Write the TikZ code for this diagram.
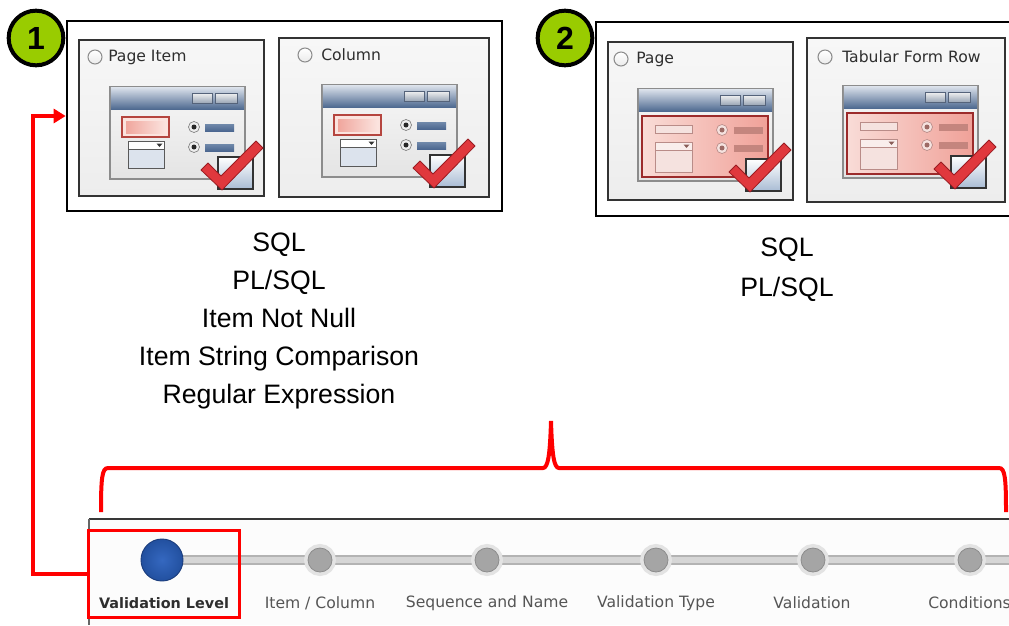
\documentclass[tikz,border=0pt]{standalone}
\usepackage{fontspec}
\setmainfont{Liberation Sans}
\newfontfamily\uifont{DejaVu Sans}
\usetikzlibrary{arrows.meta,backgrounds}

\definecolor{badgeGreen}{HTML}{99CC00}
\definecolor{panelTop}{HTML}{F7F7F7}
\definecolor{panelBot}{HTML}{EDEDED}
\definecolor{winTop}{HTML}{F6F6F6}
\definecolor{winBot}{HTML}{E4E4E4}
\definecolor{winEdge}{HTML}{8C8C8C}
\definecolor{barTop}{HTML}{D8DFE9}
\definecolor{barBot}{HTML}{4F6A91}
\definecolor{btnTop}{HTML}{F2F2F2}
\definecolor{btnBot}{HTML}{9AA6B6}
\definecolor{btnEdge}{HTML}{55637A}
\definecolor{fieldRed}{HTML}{B5453F}
\definecolor{fieldPinkA}{HTML}{F0A69D}
\definecolor{fieldPinkB}{HTML}{FBE3DE}
\definecolor{ddFill}{HTML}{DCE3ED}
\definecolor{barBlueA}{HTML}{7089AA}
\definecolor{barBlueB}{HTML}{4C6790}
\definecolor{boxBlue}{HTML}{A9BCD4}
\definecolor{checkRed}{HTML}{E0383D}
\definecolor{checkDark}{HTML}{9A1C22}
\definecolor{pageA}{HTML}{F9DCD7}
\definecolor{pageB}{HTML}{F0A198}
\definecolor{pageEdge}{HTML}{9C2B2B}
\definecolor{fadedEdge}{HTML}{B98C88}
\definecolor{fadedFill}{HTML}{F5E2DF}
\definecolor{fadedBar}{HTML}{C4857E}
\definecolor{titleGray}{HTML}{2E2E2E}
\definecolor{labelGray}{HTML}{555555}
\definecolor{trackDark}{HTML}{B3B3B3}
\definecolor{trackLight}{HTML}{D6D6D6}
\definecolor{dotGray}{HTML}{A5A5A5}
\definecolor{dotEdge}{HTML}{8C8C8C}
\definecolor{haloGray}{HTML}{E3E3E3}
\definecolor{blueIn}{HTML}{3568C0}
\definecolor{blueOut}{HTML}{22509F}
\definecolor{blueEdge}{HTML}{1C3E7E}

% radio button of the dialog screenshots
\newcommand{\uiradio}[2]{%
  \draw[fill=black!7, draw=black!50, line width=0.5pt] (#1,#2) circle[radius=5.5];
  \fill[black!85] (#1,#2) circle[radius=2.5];}
\newcommand{\fadedradio}[2]{%
  \draw[fill=fadedFill, draw=fadedEdge, line width=0.5pt] (#1,#2) circle[radius=5.5];
  \fill[fadedBar!80!black] (#1,#2) circle[radius=2.5];}

% window frame with title bar and its two buttons
\newcommand{\winframe}{%
  \shadedraw[top color=winTop, bottom color=winBot, draw=winEdge, line width=1.1pt] (0,0) rectangle (135,92);
  \shade[top color=barTop, bottom color=barBot] (0.8,0.8) rectangle (134.2,22);
  \shadedraw[top color=btnTop, bottom color=btnBot, draw=btnEdge, line width=0.5pt] (82,6) rectangle (102,16);
  \shadedraw[top color=btnTop, bottom color=btnBot, draw=btnEdge, line width=0.5pt] (105,6) rectangle (127,16);}

% checkbox with the red tick
\newcommand{\wincheck}{%
  \shadedraw[top color=white, bottom color=boxBlue, draw=black!80, line width=0.9pt] (108,70) rectangle (143,102);
  \filldraw[fill=checkRed, draw=checkDark, line width=0.6pt, line join=round]
    (91,83) -- (98,76) -- (111,89) -- (146,54) -- (153,61) -- (112,103) -- cycle;}

% window with one highlighted field
\newcommand{\itemwindow}[2]{%
  \begin{scope}[shift={(#1,#2)}]
    \winframe
    \draw[fill=fieldPinkB, draw=fieldRed, line width=1.2pt] (12,30) rectangle (59,50);
    \shade[left color=fieldPinkA, right color=fieldPinkB] (16,34) rectangle (55,46);
    \draw[fill=ddFill, draw=black!65, line width=0.6pt] (18,54) rectangle (54,81);
    \draw[fill=white, draw=black!65, line width=0.6pt] (18,54) rectangle (54,62);
    \fill[black!80] (46.5,56.5) -- (52.5,56.5) -- (49.5,60) -- cycle;
    \uiradio{84}{40}
    \uiradio{84}{60}
    \shade[top color=barBlueA, bottom color=barBlueB] (95,37) rectangle (124,44);
    \shade[top color=barBlueA, bottom color=barBlueB] (95,57) rectangle (124,64);
    \wincheck
  \end{scope}}

% window with the whole body highlighted
\newcommand{\pagewindow}[2]{%
  \begin{scope}[shift={(#1,#2)}]
    \winframe
    \shadedraw[left color=pageA, right color=pageB, draw=pageEdge, line width=1.2pt] (4,27) rectangle (130,88);
    \draw[fill=fadedFill, draw=fadedEdge, line width=0.5pt] (17,36) rectangle (54,44);
    \draw[fill=fadedFill, draw=fadedEdge, line width=0.5pt] (17,53) rectangle (54,83);
    \draw[fill=fadedFill!60!white, draw=fadedEdge, line width=0.5pt] (17,53) rectangle (54,61);
    \fill[fadedBar!70!black] (45.5,55.5) -- (51.5,55.5) -- (48.5,59) -- cycle;
    \fadedradio{84}{41}
    \fadedradio{84}{59}
    \fill[fadedBar] (96,38) rectangle (125,45);
    \fill[fadedBar] (96,56) rectangle (125,63);
    \wincheck
  \end{scope}}

\begin{document}
\begin{tikzpicture}[x=0.75pt, y=-0.75pt,
  badge/.style={circle, draw=black, line width=3pt, fill=badgeGreen, minimum size=41pt,
    inner sep=0pt, font=\fontsize{24}{24}\selectfont\bfseries},
  groupbox/.style={draw=black, line width=2pt, inner sep=0pt},
  panel/.style={draw=black!80, line width=0.8pt, top color=panelTop, bottom color=panelBot, inner sep=0pt},
  paneltitle/.style={anchor=west, inner sep=0pt, text=titleGray, font=\uifont\fontsize{11.7}{14}\selectfont},
  titleradio/.style={circle, draw=black!45, line width=0.8pt, top color=white, bottom color=black!8,
    minimum size=10.5pt, inner sep=0pt},
  listtext/.style={align=center, inner sep=0pt, font=\fontsize{20}{28.5}\selectfont},
  redline/.style={draw=red, line width=3pt},
  stepdot/.style={circle, fill=dotGray, draw=dotEdge, line width=0.6pt, minimum size=18pt, inner sep=0pt,
    preaction={draw=haloGray, line width=6pt}},
  steplabel/.style={inner sep=0pt, text=labelGray, font=\uifont\fontsize{11.7}{14}\selectfont},
  currentlabel/.style={inner sep=0pt, text=titleGray, font=\uifont\fontsize{10.8}{13}\selectfont\bfseries}]

\useasboundingbox (0,0) rectangle (1009,625);
\clip (0,0) rectangle (1009,625);

% ---- group 1: item-level validations
\node[groupbox, minimum width=326.25pt, minimum height=142.5pt] (box1) at (284.5,116) {};
\node[panel, minimum width=138.75pt, minimum height=117pt] (p1) at (171.5,118) {};
\node[panel, minimum width=157.5pt, minimum height=119.25pt] (p2) at (384,117.5) {};
\node[titleradio] (r1) at (95,57) {};
\node[paneltitle] (t1) at (108,57) {Page Item};
\node[titleradio] (r2) at (305,55) {};
\node[paneltitle] (t2) at (321,55) {Column};
\itemwindow{110}{87}
\itemwindow{322}{85}
\node[badge] (b1) at (36,38) {1};

% ---- group 2: page-level validations
\node[groupbox, minimum width=333pt, minimum height=145.5pt] (box2) at (818,119) {};
\node[panel, minimum width=138.75pt, minimum height=118.5pt] (p3) at (700.5,121) {};
\node[panel, minimum width=148.5pt, minimum height=123pt] (p4) at (906,120) {};
\node[titleradio] (r3) at (621,59) {};
\node[paneltitle] (t3) at (636,59) {Page};
\node[titleradio] (r4) at (825,57) {};
\node[paneltitle] (t4) at (842,57) {Tabular Form Row};
\pagewindow{638}{89}
\pagewindow{843}{86}
\node[badge] (b2) at (565,38) {2};

% ---- validation types of each level
\node[listtext] (list1) at (279,321) {SQL\\PL/SQL\\Item Not Null\\Item String Comparison\\Regular Expression};
\node[listtext, font=\fontsize{20}{30}\selectfont] (list2) at (787,270) {SQL\\PL/SQL};

% ---- brace over the wizard steps
\draw[redline] (101,512) .. controls (101,478) and (102,468) .. (108,468) -- (543,468)
  .. controls (548,468) and (550,455) .. (551,421)
  .. controls (552,455) and (554,468) .. (559,468) -- (999,468)
  .. controls (1005,468) and (1006,478) .. (1006,512);

% ---- wizard progress strip
\node[circle, minimum size=31.5pt, inner sep=0pt, inner color=blueIn, outer color=blueOut,
  draw=blueEdge, line width=0.7pt] (s0) at (162,560) {};
\node[stepdot] (s1) at (320,560) {};
\node[stepdot] (s2) at (487,560) {};
\node[stepdot] (s3) at (656,560) {};
\node[stepdot] (s4) at (813,560) {};
\node[stepdot] (s5) at (970,560) {};
\coordinate (trackend) at (1009,560);
\begin{scope}[on background layer]
  \fill[white] (0,0) rectangle (1009,625);
  \fill[black!1] (89,519) rectangle (1009,625);
  \draw[draw=black!78, line width=0.9pt] (89,519) -- (1009,519);
  \draw[draw=black!60, line width=0.9pt] (89,519) -- (89,625);
  \draw[draw=trackDark, line width=7.5pt] (s0) -- (trackend);
  \draw[draw=trackLight, line width=5pt] (s0) -- (trackend);
\end{scope}

\node[currentlabel] (l0) at (164,603) {Validation Level};
\node[steplabel] (l1) at (320,603) {Item / Column};
\node[steplabel] (l2) at (487,603) {Sequence and Name};
\node[steplabel] (l3) at (656,603) {Validation Type};
\node[steplabel] (l4) at (812,603) {Validation};
\node[steplabel, anchor=west] (l5) at (928,603) {Conditions};

% ---- current step marked and linked to group 1
\node[draw=red, line width=2.25pt, minimum width=113.25pt, minimum height=65.25pt, inner sep=0pt] (vlbox) at (163.5,573.5) {};
\coordinate (bend) at (33,116);
\draw[redline, -{Triangle[length=9pt,width=10.5pt]}] (vlbox.west) -| (bend) -- (box1.west);

\end{tikzpicture}
\end{document}
